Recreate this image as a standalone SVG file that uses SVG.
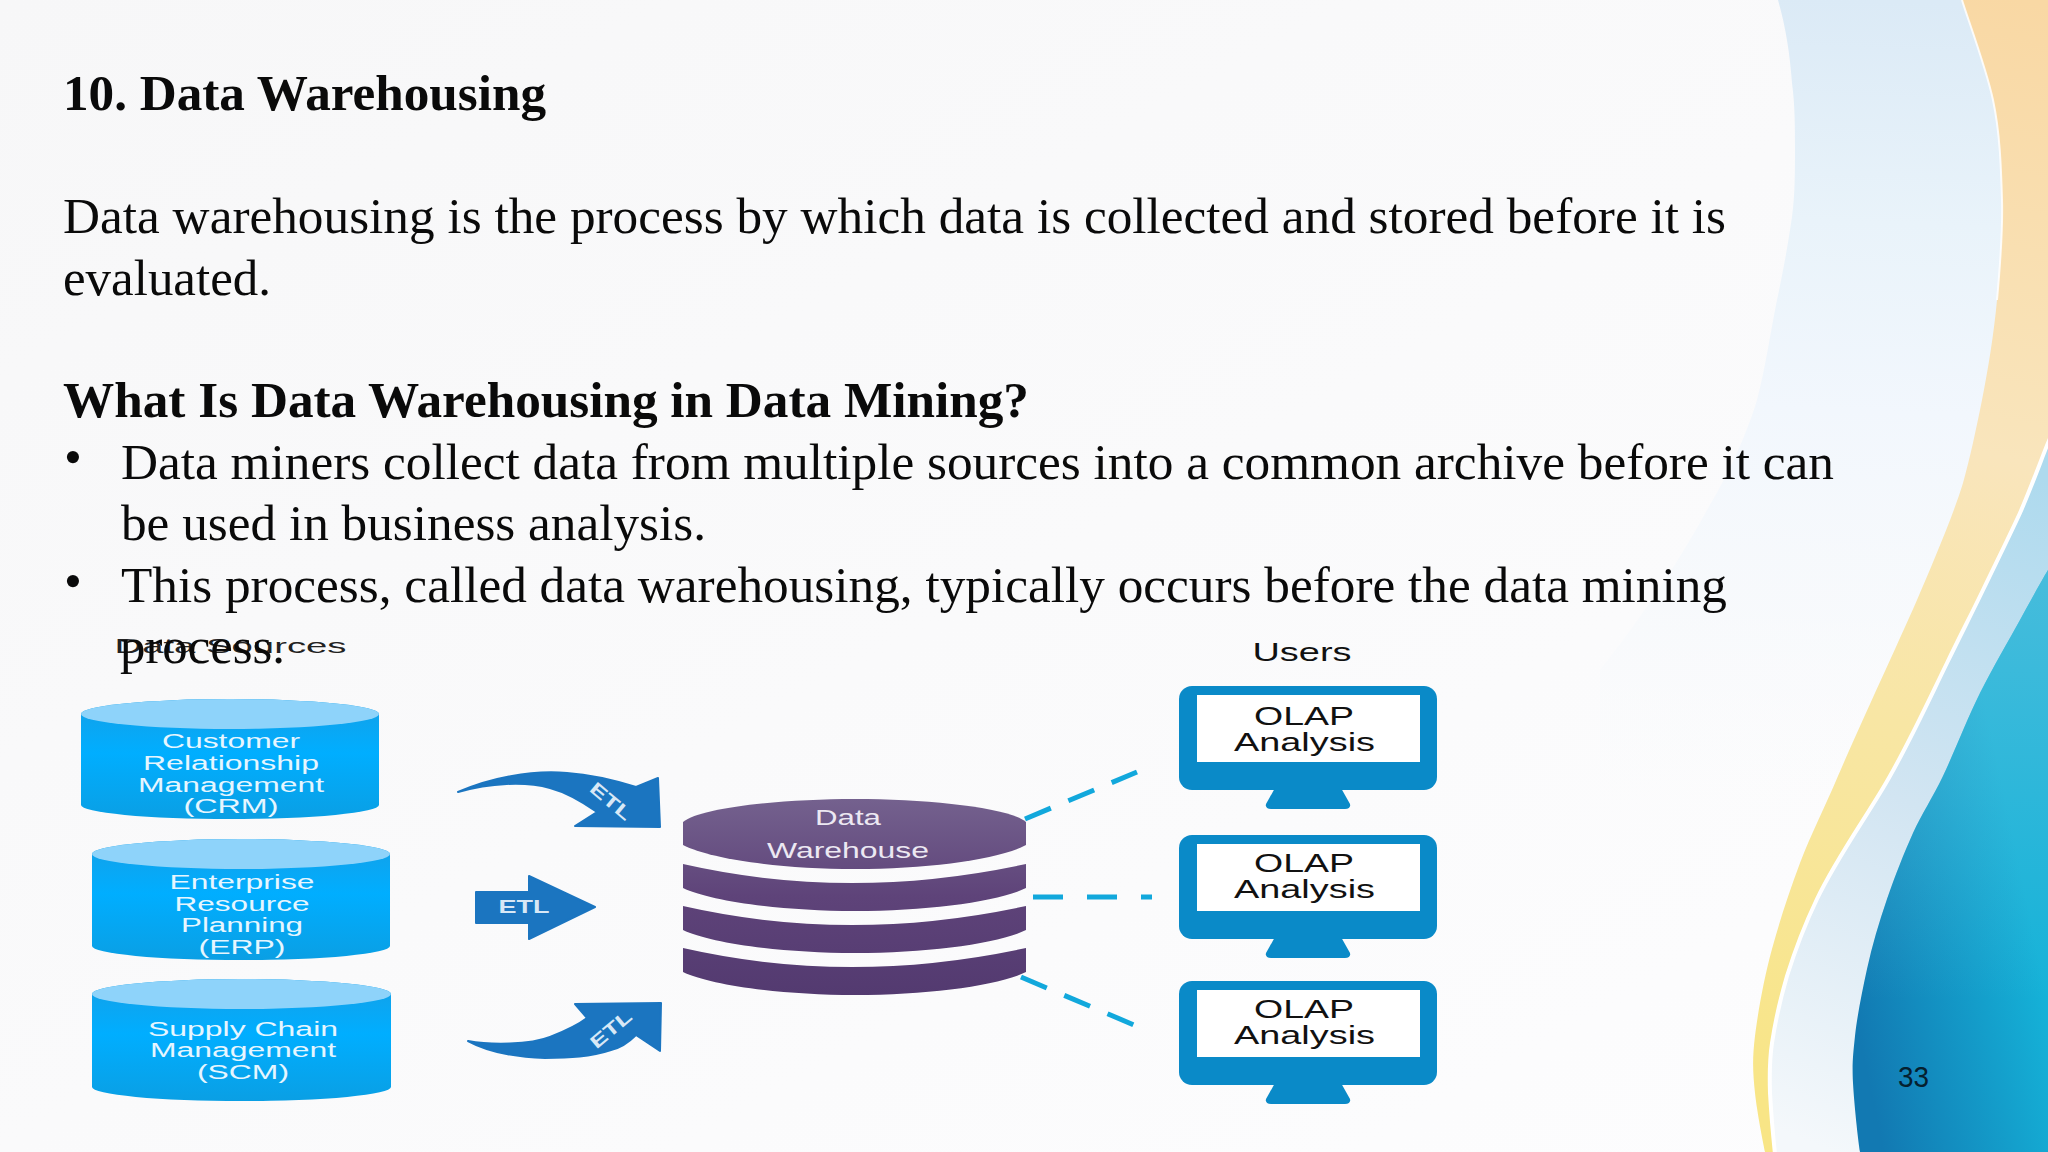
<svg xmlns="http://www.w3.org/2000/svg" width="2048" height="1152" viewBox="0 0 2048 1152">
<style>
.t{font-family:"Liberation Serif","Times New Roman",serif;font-size:51px;fill:#0a0a0a}
.b{font-weight:bold}
.c{font-family:"Liberation Sans",Arial,sans-serif;font-size:20px;fill:#e6f6ff;text-anchor:middle}
.u{font-family:"Liberation Sans",Arial,sans-serif;font-size:26px;fill:#111;text-anchor:middle}
.e{font-family:"Liberation Sans",Arial,sans-serif;font-size:18px;font-weight:bold;fill:#d8e8f6;text-anchor:middle}
.w{font-family:"Liberation Sans",Arial,sans-serif;font-size:22px;fill:#ece8f2;text-anchor:middle}
.body{fill:url(#cyl)}.lid{fill:#8ed3fa}
.layer{fill:url(#pur)}
.mon{fill:#0a8ac8}.scr{fill:#fff}
.arr{fill:#1b75c0;stroke:#1b75c0;stroke-width:2;stroke-linejoin:round}
.dash{stroke:#12a8dc;stroke-width:5;fill:none}
</style>
<defs>
<linearGradient id="bg" x1="0" y1="0" x2="1" y2="1"><stop offset="0" stop-color="#f7f7f8"/><stop offset=".5" stop-color="#fafafb"/><stop offset="1" stop-color="#fdfdfe"/></linearGradient>
<linearGradient id="pale" gradientUnits="userSpaceOnUse" x1="1850" y1="0" x2="1820" y2="820"><stop offset="0" stop-color="#dbeaf6"/><stop offset=".27" stop-color="#e9f3fa"/><stop offset=".5" stop-color="#f2f7fd"/><stop offset=".75" stop-color="#f6f9fc" stop-opacity=".7"/><stop offset="1" stop-color="#fafbfc" stop-opacity="0"/></linearGradient>
<linearGradient id="or" gradientUnits="userSpaceOnUse" x1="2020" y1="0" x2="1780" y2="1100"><stop offset="0" stop-color="#f9d8a4"/><stop offset=".4" stop-color="#f9e5bc"/><stop offset=".65" stop-color="#f8e6a4"/><stop offset="1" stop-color="#f8e586"/></linearGradient>
<linearGradient id="lb" gradientUnits="userSpaceOnUse" x1="2048" y1="480" x2="1780" y2="1130"><stop offset="0" stop-color="#aedaee"/><stop offset=".5" stop-color="#d2e5f2"/><stop offset="1" stop-color="#f4f8fb"/></linearGradient>
<linearGradient id="teal" gradientUnits="userSpaceOnUse" x1="1860" y1="1040" x2="2048" y2="1000"><stop offset="0" stop-color="#1279b2"/><stop offset="1" stop-color="#15b2d8"/></linearGradient>
<linearGradient id="tealv" gradientUnits="userSpaceOnUse" x1="0" y1="570" x2="0" y2="1000"><stop offset="0" stop-color="#6fc5df" stop-opacity=".55"/><stop offset="1" stop-color="#6fc5df" stop-opacity="0"/></linearGradient>
<linearGradient id="cyl" x1="0" y1="0" x2="0" y2="1"><stop offset="0" stop-color="#159fe6"/><stop offset=".45" stop-color="#00aeff"/><stop offset="1" stop-color="#0a9fe4"/></linearGradient>
<linearGradient id="pur" gradientUnits="userSpaceOnUse" x1="0" y1="799" x2="0" y2="995"><stop offset="0" stop-color="#74618e"/><stop offset=".5" stop-color="#5e4379"/><stop offset="1" stop-color="#533a70"/></linearGradient>
</defs>
<g id="background">
<rect width="2048" height="1152" fill="url(#bg)"/>
<path d="M1778,0C1786,28 1790,55 1792,83C1795,105 1795,128 1795,150C1795,172 1795,195 1792,217C1788,245 1783,272 1777,300C1770,335 1765,370 1757,400C1745,440 1725,480 1707,510C1680,560 1640,620 1600,670V1152H2048V0Z" fill="url(#pale)"/>
<path d="M1962,0C1967,17 1986,67 1993,100C2000,133 2001,167 2002,200C2003,233 2000,267 1997,300C1994,333 1988,370 1982,400C1976,430 1970,458 1963,483C1953,516 1932,565 1917,600C1895,650 1860,725 1838,776C1825,807 1811,834 1800,863C1789,892 1780,920 1772,949C1764,978 1758,1012 1755,1036C1752,1060 1753,1074 1755,1093C1757,1112 1763,1142 1765,1152H2048V0Z" fill="url(#or)"/>
<path d="M1962,0C1967,17 1986,67 1993,100C2000,133 2001,167 2002,200C2003,233 2000,267 1997,300" fill="none" stroke="#fff" stroke-opacity=".85" stroke-width="2"/>
<path d="M2060,415L2048,443C2043,455 2031,488 2020,513C2009,537 1995,565 1983,590C1971,615 1962,632 1947,663C1927,704 1912,737 1890,776C1870,812 1838,855 1817,899C1806,922 1794.500,952 1787,976C1780,1000 1775,1023 1772,1043C1769,1063 1769.500,1075 1770,1093C1771,1111 1773,1135 1775,1154H2060Z" fill="url(#lb)" stroke="#fff" stroke-width="4"/>
<path d="M2048,570C2043,578 2031,600 2020,620C2009,640 1993,667 1980,693C1967,719 1954,753 1943,776C1932,799 1922,813 1913,833C1904,853 1895,876 1887,899C1879,922 1872,946 1867,969C1862,992 1857,1017 1855,1036C1853,1055 1852,1064 1853,1083C1854,1102 1858,1140 1860,1152H2048Z" fill="url(#teal)"/>
<path d="M2048,570C2043,578 2031,600 2020,620C2009,640 1993,667 1980,693C1967,719 1954,753 1943,776C1932,799 1922,813 1913,833C1904,853 1895,876 1887,899C1879,922 1872,946 1867,969C1862,992 1857,1017 1855,1036C1853,1055 1852,1064 1853,1083C1854,1102 1858,1140 1860,1152H2048Z" fill="url(#tealv)"/>
</g>
<g id="cyl-crm"><path class="body" d="M81,714A149,15 0 0 1 379,714V805A149,14 0 0 1 81,805Z"/><ellipse class="lid" cx="230" cy="714" rx="149" ry="15"/>
<text class="c" x="231" y="748" textLength="138" lengthAdjust="spacingAndGlyphs">Customer</text><text class="c" x="231" y="770" textLength="176" lengthAdjust="spacingAndGlyphs">Relationship</text><text class="c" x="231" y="792" textLength="186" lengthAdjust="spacingAndGlyphs">Management</text><text class="c" x="231" y="813" textLength="95" lengthAdjust="spacingAndGlyphs">(CRM)</text></g>
<g id="cyl-erp"><path class="body" d="M92,854A149,15 0 0 1 390,854V946A149,14 0 0 1 92,946Z"/><ellipse class="lid" cx="241" cy="854" rx="149" ry="15"/>
<text class="c" x="242" y="889" textLength="145" lengthAdjust="spacingAndGlyphs">Enterprise</text><text class="c" x="242" y="911" textLength="135" lengthAdjust="spacingAndGlyphs">Resource</text><text class="c" x="242" y="932" textLength="122" lengthAdjust="spacingAndGlyphs">Planning</text><text class="c" x="242" y="954" textLength="87" lengthAdjust="spacingAndGlyphs">(ERP)</text></g>
<g id="cyl-scm"><path class="body" d="M92,994A149.500,15 0 0 1 391,994V1087A149.500,14 0 0 1 92,1087Z"/><ellipse class="lid" cx="241.500" cy="994" rx="149.500" ry="15"/>
<text class="c" x="243" y="1036" textLength="190" lengthAdjust="spacingAndGlyphs">Supply Chain</text><text class="c" x="243" y="1057" textLength="186" lengthAdjust="spacingAndGlyphs">Management</text><text class="c" x="243" y="1079" textLength="92" lengthAdjust="spacingAndGlyphs">(SCM)</text></g>
<g id="warehouse">
<path class="layer" d="M683,948Q850,986 1026,948V972C1000,985 930,995 855,995C780,995 710,985 683,972Z"/>
<path class="layer" d="M683,906Q850,944 1026,906V930C1000,943 930,953 855,953C780,953 710,943 683,930Z"/>
<path class="layer" d="M683,864Q850,902 1026,864V888C1000,901 930,911 855,911C780,911 710,901 683,888Z"/>
<path class="layer" d="M683,822C700,808 780,799 855,799C930,799 1010,808 1026,822V845C1000,859 930,869 855,869C780,869 710,859 683,845Z"/>
<text class="w" x="848" y="825" textLength="66" lengthAdjust="spacingAndGlyphs">Data</text><text class="w" x="848" y="858" textLength="162" lengthAdjust="spacingAndGlyphs">Warehouse</text>
</g>
<g id="monitor-1"><rect class="mon" x="1179" y="686" width="258" height="104" rx="13"/><path class="mon" d="M1275,788H1341L1350,804Q1351,809 1345,809H1271Q1265,809 1266,804Z"/><rect class="scr" x="1197" y="695" width="223" height="67"/>
<text class="u" x="1304" y="725" textLength="100" lengthAdjust="spacingAndGlyphs">OLAP</text><text class="u" x="1304.500" y="751" textLength="141" lengthAdjust="spacingAndGlyphs">Analysis</text></g>
<g id="monitor-2"><rect class="mon" x="1179" y="835" width="258" height="104" rx="13"/><path class="mon" d="M1275,937H1341L1350,953Q1351,958 1345,958H1271Q1265,958 1266,953Z"/><rect class="scr" x="1197" y="844" width="223" height="67"/>
<text class="u" x="1304" y="872" textLength="100" lengthAdjust="spacingAndGlyphs">OLAP</text><text class="u" x="1304.500" y="898" textLength="141" lengthAdjust="spacingAndGlyphs">Analysis</text></g>
<g id="monitor-3"><rect class="mon" x="1179" y="981" width="258" height="104" rx="13"/><path class="mon" d="M1275,1083H1341L1350,1099Q1351,1104 1345,1104H1271Q1265,1104 1266,1099Z"/><rect class="scr" x="1197" y="990" width="223" height="67"/>
<text class="u" x="1304" y="1018" textLength="100" lengthAdjust="spacingAndGlyphs">OLAP</text><text class="u" x="1304.500" y="1044" textLength="141" lengthAdjust="spacingAndGlyphs">Analysis</text></g>
<g id="connectors">
<path class="dash" d="M1025,819L1137,772" stroke-dasharray="28 19"/>
<path class="dash" d="M1033,897H1152" stroke-dasharray="30 24"/>
<path class="dash" d="M1021,977L1134,1025" stroke-dasharray="28 19"/>
<path class="arr" d="M458,792C490,778 530,770 567,773C595,775 620,782 636,787L658,778L660,827L575,826L597,812C580,800 565,792 550,788C525,781 490,783 458,792Z"/>
<text class="e" transform="translate(607,806) rotate(40)" textLength="48" lengthAdjust="spacingAndGlyphs">ETL</text>
<path class="arr" d="M476,892H529V876L595,907L529,939V923H476Z"/>
<text class="e" x="524" y="913" textLength="51" lengthAdjust="spacingAndGlyphs">ETL</text>
<path class="arr" d="M468,1041C490,1045 530,1045 550,1037C565,1031 578,1025 587,1018L575,1004L661,1003L660,1051L636,1035C628,1043 620,1048 611,1050C590,1057 570,1058 545,1058C515,1057 490,1053 468,1041Z"/>
<text class="e" transform="translate(615,1034) rotate(-40)" textLength="48" lengthAdjust="spacingAndGlyphs">ETL</text>
</g>
<g id="labels">
<text x="230.500" y="653" font-family="Liberation Sans,Arial,sans-serif" font-size="21" fill="#222" text-anchor="middle" textLength="232" lengthAdjust="spacingAndGlyphs">Data Sources</text>
<text class="u" x="1302" y="661" textLength="99" lengthAdjust="spacingAndGlyphs">Users</text>
</g>
<g id="slide-text">
<text class="t b" x="63" y="110" textLength="483" lengthAdjust="spacingAndGlyphs">10. Data Warehousing</text>
<text class="t" x="63" y="233" textLength="1663" lengthAdjust="spacingAndGlyphs">Data warehousing is the process by which data is collected and stored before it is</text>
<text class="t" x="63" y="295" textLength="208" lengthAdjust="spacingAndGlyphs">evaluated.</text>
<text class="t b" x="63" y="417" textLength="966" lengthAdjust="spacingAndGlyphs">What Is Data Warehousing in Data Mining?</text>
<text class="t" x="64" y="474">•</text>
<text class="t" x="121" y="479" textLength="1713" lengthAdjust="spacingAndGlyphs">Data miners collect data from multiple sources into a common archive before it can</text>
<text class="t" x="121" y="540" textLength="585" lengthAdjust="spacingAndGlyphs">be used in business analysis.</text>
<text class="t" x="64" y="598">•</text>
<text class="t" x="121" y="602" textLength="1606" lengthAdjust="spacingAndGlyphs">This process, called data warehousing, typically occurs before the data mining</text>
<text class="t" x="120" y="663" textLength="165" lengthAdjust="spacingAndGlyphs">process.</text>
<text x="1913.500" y="1087" font-family="Liberation Sans,Arial,sans-serif" font-size="29" fill="#05202f" text-anchor="middle" textLength="31" lengthAdjust="spacingAndGlyphs">33</text>
</g>
</svg>
